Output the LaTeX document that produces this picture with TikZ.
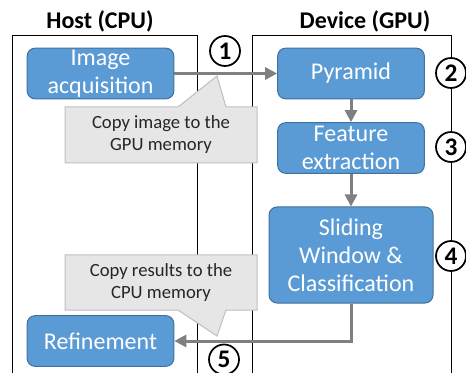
\documentclass[tikz,border=0pt]{standalone}
\usepackage{fontspec}
\setmainfont{Carlito}
\usepackage{tikz}
\usetikzlibrary{arrows.meta}
\definecolor{stageblue}{HTML}{5B9BD5}
\definecolor{stageedge}{HTML}{41719C}
\definecolor{flowgray}{HTML}{808080}
\definecolor{notegray}{HTML}{E7E6E6}
\definecolor{noteedge}{HTML}{BFBFBF}
\tikzset{%
    stage/.style={%
        draw=stageedge, fill=stageblue, line width=0.75pt,
        rounded corners=6pt, text=white, align=center, inner sep=0pt,
        minimum width=110pt, minimum height=38pt,
        font=\fontsize{18}{21}\selectfont
    },
    flow/.style={%
        draw=flowgray, line width=2.25pt,
        -{Triangle[length=9pt,width=9pt]}
    },
    note/.style={%
        draw=noteedge, fill=notegray, line width=0.75pt
    },
    notetext/.style={%
        align=center, text=black!85, font=\fontsize{14}{16.5}\selectfont
    },
    badge/.style={%
        circle, draw=black, fill=white, line width=1.3pt, inner sep=0pt,
        minimum size=22.5pt, font=\fontsize{19}{19}\selectfont\bfseries
    },
    heading/.style={font=\fontsize{18}{20}\selectfont\bfseries}
}

\begin{document}
\begin{tikzpicture}[x=0.75pt,y=-0.75pt]
\useasboundingbox (0,0) rectangle (466,373);
\clip (0,0) rectangle (466,373);

% host and device columns, open at the bottom
\draw[line width=0.75pt] (12,390) -- (12,36) -- (197,36) -- (197,390);
\draw[line width=0.75pt] (252,390) -- (252,36) -- (451,36) -- (451,390);
\node[heading] (host) at (100,21) {Host (CPU)};
\node[heading] (device) at (365,21) {Device (GPU)};

% speech bubbles for the transfers
\draw[note] (65,107) -- (178,107) -- (217,76) -- (226,107) -- (257,107)
    -- (257,163) -- (65,163) -- cycle;
\node[notetext] (copyin) at (161,135) {Copy image to the\\GPU memory};
\draw[note] (65,255) -- (257,255) -- (257,310) -- (226,310) -- (217,336)
    -- (178,310) -- (65,310) -- cycle;
\node[notetext] (copyout) at (161,283) {Copy results to the\\CPU memory};

% processing stages
\node[stage] (acq) at (100.5,73.5) {Image\\acquisition};
\node[stage] (pyramid) at (351,73.5) {Pyramid};
\node[stage] (feature) at (351,148) {Feature\\extraction};
\node[stage, minimum width=123pt, minimum height=72pt] (sliding) at (351,255)
    {Sliding\\Window \&\\Classification};
\node[stage] (refine) at (100.5,341) {Refinement};

\draw[flow] (acq) -- (pyramid);
\draw[flow] (pyramid) -- (feature);
\draw[flow] (feature) -- (sliding);
\draw[flow] (sliding.south) |- (refine.east);

% step numbers
\node[badge] (one) at (225,51) {1};
\node[badge] (two) at (451,73) {2};
\node[badge] (three) at (451,147) {3};
\node[badge] (four) at (451,256) {4};
\node[badge] (five) at (224,359.5) {5};
\end{tikzpicture}
\end{document}
